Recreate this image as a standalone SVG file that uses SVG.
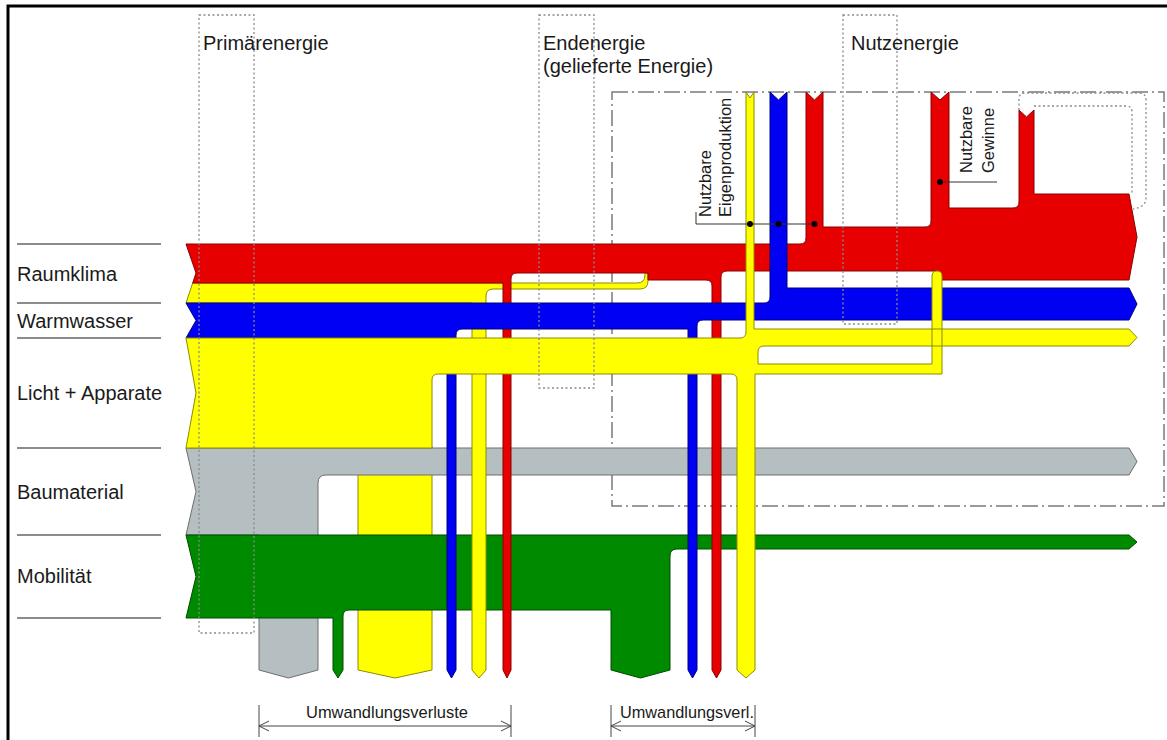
<svg xmlns="http://www.w3.org/2000/svg" width="1167" height="740" viewBox="0 0 1167 740">
<style>
text{font-family:"Liberation Sans",Arial,sans-serif;fill:#1a1a1a}
.hdr{font-size:20px}
.sm{font-size:16.5px}
.bt{font-size:17px}
.sep{stroke:#8c8c8c;stroke-width:2}
.dot{fill:none;stroke:#8a8a8a;stroke-width:1.3;stroke-dasharray:2 2.5}
.dd{fill:none;stroke:#7a7a7a;stroke-width:1.5;stroke-dasharray:16 4 2 4}
.red{fill:#E60000;stroke:#8a0000;stroke-width:1}
.yel{fill:#FFFF00;stroke:#8c8c00;stroke-width:1}
.blu{fill:#0000F2;stroke:#00007a;stroke-width:1}
.gry{fill:#B5BEC0;stroke:#6e6e6e;stroke-width:1}
.grn{fill:#008A00;stroke:#004a00;stroke-width:1}
.dim{stroke:#444;stroke-width:1;fill:none}
.lead{stroke:#333;stroke-width:1;fill:none}
</style>
<g id="frame"><path d="M8,740 V6 H1167" fill="none" stroke="#000" stroke-width="3"/></g>
<g id="row-separators">
<path class="sep" d="M17,244 H161 M17,303 H161 M17,338 H161 M17,448 H161 M17,535 H161 M17,618 H161"/>
</g>
<g id="row-labels">
<text class="hdr" x="17" y="281">Raumklima</text>
<text class="hdr" x="17" y="328">Warmwasser</text>
<text class="hdr" x="17" y="400">Licht + Apparate</text>
<text class="hdr" x="17" y="499">Baumaterial</text>
<text class="hdr" x="17" y="583">Mobilität</text>
</g>
<g id="system-boundary"><rect class="dd" x="612" y="92" width="552" height="414"/></g>
<g id="flow-licht-loss"><path class="yel" d="M358,446 H432 V670 L395,678 L358,670 Z"/></g>
<g id="flow-baumaterial"><path class="gry" d="M186,448 H1129 L1137,461.5 L1129,475 H326 Q318,475 318,483 V670 L288.5,678 L259,670 V535 H186 L196,491.5 Z"/></g>
<g id="flow-mobilitaet"><path class="grn" d="M186,535 H1129 L1137,542 L1129,549 H677 Q670,549 670,556 V670 L640.5,678 L611,670 V610 H349 Q343,610 343,616 V670 L338,678 L333,670 V618 H186 L196,576.5 Z"/></g>
<g id="flow-raumklima-yellow"><path class="yel" d="M192.7,283 H637 Q645,283 645,275 V273 H648 V281 Q648,289 640,289 H493 Q486,289 486,296 V670 L479,678 L472,670 V303 H186 Z"/></g>
<g id="flow-raumklima"><path class="red" d="M186,244 H800 Q806,244 806,238 V92 L814.5,100 L823,92 V227 H925 Q931,227 931,221 V92 L940,100 L949,92 V208 H1013 Q1019,208 1019,202 V110 L1026.5,117 L1034,110 V194 H1129 L1137,237 L1129,280 H937 V271 H727 Q721,271 721,277 V670 L716.5,678 L712,670 V286 Q712,280 706,280 H648 V273 H517 Q511,273 511,279 V670 L507,678 L503,670 V283 H192.7 L196,273 Z"/></g>
<g id="flow-warmwasser"><path class="blu" d="M186,303 H764 Q770,303 770,297 V92 L778.5,100 L787,92 V288 H1129 L1137,304 L1129,320 H703 Q697,320 697,326 V670 L692.5,678 L688,670 V329 H462 Q456,329 456,335 V670 L451.5,678 L447,670 V338 H186 L196,320.5 Z"/></g>
<g id="flow-licht"><path class="yel" d="M186,338 H740 Q746,338 746,332 V92 L750,98 L754,92 V329 H1129 L1137,337.5 L1129,346 H764 Q758,346 758,352 V364 H932 V276 Q932,271 937,271 Q942,271 942,276 V374 H755 V670 L746,678 L737,670 V380 Q737,374 731,374 H438 Q432,374 432,380 V448 H186 L196,393 Z"/></g>
<g id="stage-boxes">
<rect class="dot" x="199" y="15" width="55" height="618"/>
<rect class="dot" x="539" y="15" width="55" height="373"/>
<rect class="dot" x="843" y="15" width="54" height="309"/>
<path class="dot" d="M1019,110 V99 Q1019,93 1025,93 H1139 Q1146,93 1146,100 V198 Q1146,207 1133,209"/>
<path class="dot" d="M1034,106 H1126 Q1132,106 1132,112 V194"/>
</g>
<g id="stage-labels">
<text class="hdr" x="203" y="50">Primärenergie</text>
<text class="hdr" x="543" y="50">Endenergie</text>
<text class="hdr" x="543" y="73">(gelieferte Energie)</text>
<text class="hdr" x="851" y="50">Nutzenergie</text>
</g>
<g id="connectors">
<path class="lead" d="M696,212 V224 H814.5"/>
<circle cx="750" cy="224" r="3" fill="#000"/>
<circle cx="778.5" cy="224" r="3" fill="#000"/>
<circle cx="814.5" cy="224" r="3" fill="#000"/>
<path class="lead" d="M940,182 H997"/>
<circle cx="940" cy="182" r="3" fill="#000"/>
<path class="dim" d="M259,705 V737 M511,705 V737 M259,726 H511 M269,721 L259,726 L269,731 M501,721 L511,726 L501,731"/>
<path class="dim" d="M611,705 V737 M755,705 V737 M611,726 H755 M621,721 L611,726 L621,731 M745,721 L755,726 L745,731"/>
</g>
<g id="annotation-eigenproduktion">
<text class="sm" transform="translate(711,217) rotate(-90)">Nutzbare</text>
<text class="sm" transform="translate(731,217) rotate(-90)">Eigenproduktion</text>
</g>
<g id="annotation-gewinne">
<text class="sm" transform="translate(972,173) rotate(-90)">Nutzbare</text>
<text class="sm" transform="translate(994,173) rotate(-90)">Gewinne</text>
</g>
<g id="annotation-losses">
<text class="bt" x="306" y="718" textLength="162" lengthAdjust="spacingAndGlyphs">Umwandlungsverluste</text>
<text class="bt" x="620" y="718" textLength="134" lengthAdjust="spacingAndGlyphs">Umwandlungsverl.</text>
</g>
</svg>
